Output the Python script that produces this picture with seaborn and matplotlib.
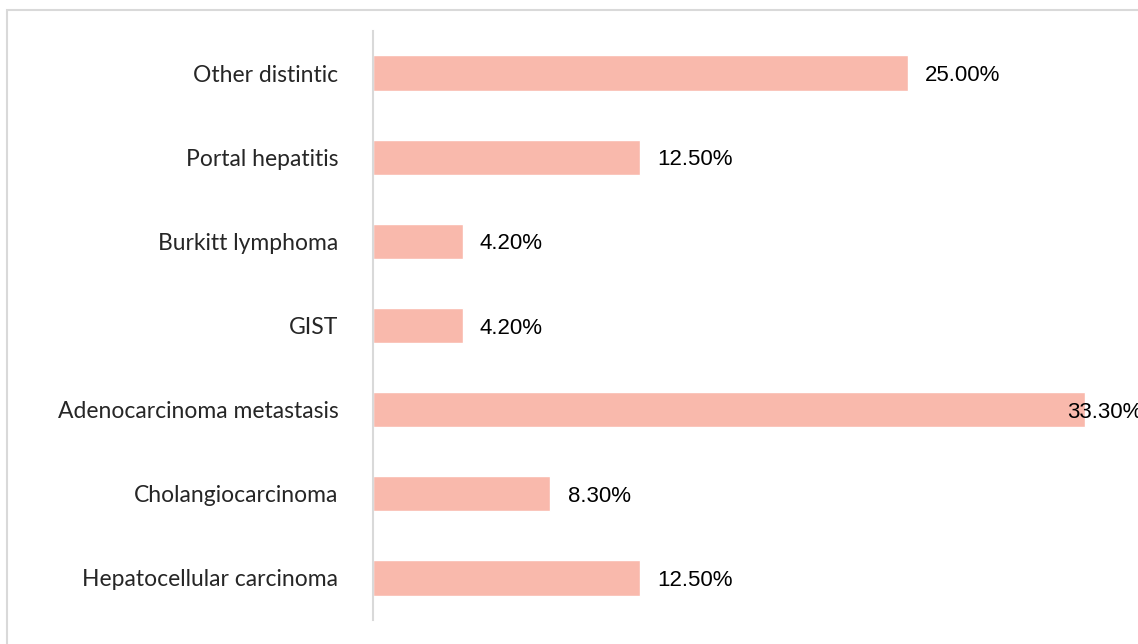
import matplotlib
matplotlib.use("Agg")
import matplotlib.pyplot as plt
import seaborn as sns
import pandas as pd
from matplotlib.patches import Rectangle

# data (top to bottom)
categories = ["Other distintic", "Portal hepatitis", "Burkitt lymphoma", "GIST",
              "Adenocarcinoma metastasis", "Cholangiocarcinoma", "Hepatocellular carcinoma"]
percent = [25.0, 12.5, 4.2, 4.2, 33.3, 8.3, 12.5]

df = pd.DataFrame({"category": categories, "percent": percent})

sns.set_theme(style="white")
plt.rcParams["font.family"] = ["Lato", "DejaVu Sans"]

fig = plt.figure(figsize=(11.38, 6.44), dpi=100)
# light frame around the chart area (clipped at right/bottom like the source)
fig.patches.append(Rectangle((7 / 1138, -0.1), 1.2, 1 - 10 / 644 + 0.1,
                             transform=fig.transFigure, fill=False,
                             edgecolor="#d9d9d9", linewidth=1.5, zorder=0))

ax = fig.add_axes([373 / 1138, 24 / 644, 765 / 1138, 589 / 644])
sns.barplot(data=df, y="category", x="percent", orient="h", color="#f9b9ac",
            saturation=1, width=0.42, ax=ax)

ax.set_xlim(0, 35.78)
ax.set_ylim(6.5, -0.5)
ax.set_xlabel("")
ax.set_ylabel("")
ax.set_xticks([])
for s in ["top", "right", "bottom"]:
    ax.spines[s].set_visible(False)
ax.spines["left"].set_color("#d9d9d9")
ax.spines["left"].set_linewidth(1.5)
ax.tick_params(axis="y", length=0, pad=25, labelsize=16.5, labelcolor="#262626")
ax.patch.set_alpha(0)

vmax = max(percent)
for i, v in enumerate(percent):
    # the longest bar's label is pulled back over the bar end, as in the source
    x = v - 0.85 if v == vmax else v + 0.8
    ax.text(x, i + 0.03, f"{v:.2f}%", va="center", ha="left", fontsize=16,
            color="black", family=["Liberation Sans", "DejaVu Sans"], clip_on=False)

fig.savefig("out.png", dpi=100)
